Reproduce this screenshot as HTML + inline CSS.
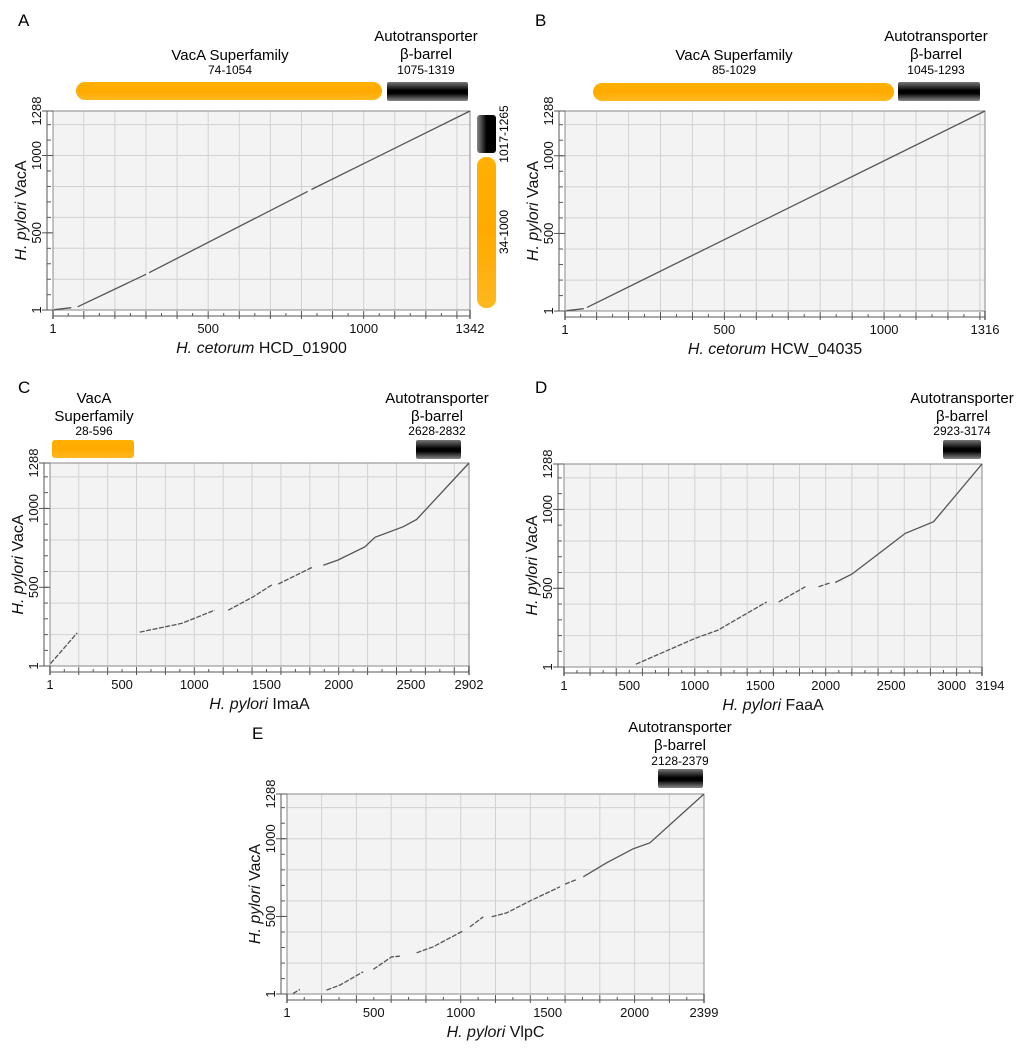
<!DOCTYPE html>
<html><head><meta charset="utf-8"><style>
html,body{margin:0;padding:0;background:#fff;}
svg{display:block;font-family:"Liberation Sans",Arial,sans-serif;}
</style></head><body>
<svg id="fig" width="1024" height="1049" viewBox="0 0 1024 1049">
<defs>
<linearGradient id="blk" x1="0" y1="0" x2="0" y2="1">
<stop offset="0" stop-color="#777"/><stop offset="0.45" stop-color="#000"/><stop offset="0.6" stop-color="#000"/><stop offset="1" stop-color="#888"/></linearGradient>
<linearGradient id="blkv" x1="0" y1="0" x2="1" y2="0">
<stop offset="0" stop-color="#888"/><stop offset="0.5" stop-color="#000"/><stop offset="1" stop-color="#000"/></linearGradient>
<linearGradient id="org" x1="0" y1="0" x2="0" y2="1">
<stop offset="0" stop-color="#ffb000"/><stop offset="0.5" stop-color="#ffaa00"/><stop offset="1" stop-color="#ffb820"/></linearGradient>
</defs>
<g>
<text x="18" y="26" font-size="17">A</text>
<text x="230" y="60" font-size="15" text-anchor="middle">VacA Superfamily</text>
<text x="230" y="74" font-size="12" text-anchor="middle">74-1054</text>
<text x="426" y="41" font-size="15" text-anchor="middle">Autotransporter</text>
<text x="426" y="59" font-size="15" text-anchor="middle">β-barrel</text>
<text x="426" y="74" font-size="12" text-anchor="middle">1075-1319</text>
<rect x="76" y="82" width="306" height="18" rx="9" fill="url(#org)"/>
<rect x="387" y="82" width="81" height="19" rx="2" fill="url(#blk)"/>
<rect x="477" y="115" width="19" height="38" rx="3" fill="url(#blkv)"/>
<rect x="477" y="157" width="19" height="151" rx="9" fill="url(#org)"/>
<text transform="translate(508,134) rotate(-90)" font-size="12" text-anchor="middle">1017-1265</text>
<text transform="translate(508,232) rotate(-90)" font-size="12" text-anchor="middle">34-1000</text>
</g>
<g>
<text x="535" y="26" font-size="17">B</text>
<text x="734" y="60" font-size="15" text-anchor="middle">VacA Superfamily</text>
<text x="734" y="74" font-size="12" text-anchor="middle">85-1029</text>
<text x="936" y="41" font-size="15" text-anchor="middle">Autotransporter</text>
<text x="936" y="59" font-size="15" text-anchor="middle">β-barrel</text>
<text x="936" y="74" font-size="12" text-anchor="middle">1045-1293</text>
<rect x="593" y="83" width="301" height="18" rx="9" fill="url(#org)"/>
<rect x="898" y="82" width="82" height="19" rx="2" fill="url(#blk)"/>
</g>
<g>
<text x="18" y="393" font-size="17">C</text>
<text x="94" y="403" font-size="15" text-anchor="middle">VacA</text>
<text x="94" y="421" font-size="15" text-anchor="middle">Superfamily</text>
<text x="94" y="435" font-size="12" text-anchor="middle">28-596</text>
<rect x="52" y="440" width="82" height="18" rx="3" fill="url(#org)"/>
<text x="437" y="403" font-size="15" text-anchor="middle">Autotransporter</text>
<text x="437" y="421" font-size="15" text-anchor="middle">β-barrel</text>
<text x="437" y="435" font-size="12" text-anchor="middle">2628-2832</text>
<rect x="416" y="440" width="45" height="19" rx="2" fill="url(#blk)"/>
</g>
<g>
<text x="535" y="393" font-size="17">D</text>
<text x="962" y="403" font-size="15" text-anchor="middle">Autotransporter</text>
<text x="962" y="421" font-size="15" text-anchor="middle">β-barrel</text>
<text x="962" y="435" font-size="12" text-anchor="middle">2923-3174</text>
<rect x="943" y="440" width="38" height="19" rx="2" fill="url(#blk)"/>
</g>
<g>
<text x="252" y="739" font-size="17">E</text>
<text x="680" y="732" font-size="15" text-anchor="middle">Autotransporter</text>
<text x="680" y="750" font-size="15" text-anchor="middle">β-barrel</text>
<text x="680" y="765" font-size="12" text-anchor="middle">2128-2379</text>
<rect x="658" y="769" width="45" height="19" rx="2" fill="url(#blk)"/>
</g>
</svg>
<script>
// ---- data ----
const panelIds = ['a','b','c','d','e'];
const xMaxA = 1342, xMaxB = 1316, xMaxC = 2902, xMaxD = 3194, xMaxE = 2399;
const yMax = 1288;
const xTicksA = [1,500,1000,1342];
const xTicksB = [1,500,1000,1316];
const xTicksC = [1,500,1000,1500,2000,2500,2902];
const xTicksD = [1,500,1000,1500,2000,2500,3000,3194];
const xTicksE = [1,500,1000,1500,2000,2399];
const yTicks = [1,500,1000,1288];
const xTitleA = ['H. cetorum',' HCD_01900'];
const xTitleB = ['H. cetorum',' HCW_04035'];
const xTitleC = ['H. pylori',' ImaA'];
const xTitleD = ['H. pylori',' FaaA'];
const xTitleE = ['H. pylori',' VlpC'];
// alignment fragments [x, y] in residue units
const segA = [[[5,3],[60,16]],[[80,22],[300,232]],[[310,242],[820,768]],[[832,780],[1342,1288]]];
const segB = [[[5,3],[60,16]],[[70,24],[1316,1288]]];
const segC = [[[5,17],[189,211]],[[623,216],[912,271],[1142,355]],[[1235,355],[1408,440],[1546,520]],[[1581,520],[1823,630]],[[1893,640],[1996,673],[2181,757],[2251,817],[2447,884],[2539,930],[2902,1288]]];
const segD = [[[550,19],[1000,182],[1178,235],[1549,414]],[[1641,414],[1845,510]],[[1946,510],[2029,533]],[[2073,537],[2200,590],[2607,848],[2824,922],[3194,1288]]];
const segE = [[[36,5],[75,30]],[[228,26],[305,58],[439,144]],[[497,159],[602,240],[650,244]],[[746,266],[842,305],[1015,408]],[[1053,433],[1130,498]],[[1178,498],[1264,523],[1408,605],[1571,691]],[[1600,708],[1667,738]],[[1705,755],[1839,845],[1993,936],[2088,974],[2399,1288]]];

const boxes = {
  a:{x0:53,x1:470,y0:111,y1:310,xmax:xMaxA,ticks:xTicksA,title:xTitleA,seg:segA,grid:100,solid:true},
  b:{x0:565,x1:985,y0:111,y1:311,xmax:xMaxB,ticks:xTicksB,title:xTitleB,seg:segB,grid:100,solid:true},
  c:{x0:50,x1:469,y0:463,y1:666,xmax:xMaxC,ticks:xTicksC,title:xTitleC,seg:segC,grid:200,solid:false},
  d:{x0:564,x1:982,y0:464,y1:667,xmax:xMaxD,ticks:xTicksD,title:xTitleD,seg:segD,grid:200,solid:false},
  e:{x0:287,x1:704,y0:794,y1:994,xmax:xMaxE,ticks:xTicksE,title:xTitleE,seg:segE,grid:200,solid:false}
};
const NS='http://www.w3.org/2000/svg';
const svg=document.getElementById('fig');
function mk(tag,attrs,parent){const e=document.createElementNS(NS,tag);for(const k in attrs)e.setAttribute(k,attrs[k]);(parent||svg).appendChild(e);return e;}

panelIds.forEach(id=>{
  const B=boxes[id];
  const sx=v=>B.x0+(v-1)/(B.xmax-1)*(B.x1-B.x0);
  const sy=v=>B.y1-(v-1)/(yMax-1)*(B.y1-B.y0);
  const g=mk('g',{});
  
  
  const bg=mk('rect',{x:B.x0,y:B.y0,width:B.x1-B.x0,height:B.y1-B.y0,fill:'#f3f3f3'},g);
  
  
  for(let v=B.grid;v<B.xmax;v+=B.grid){
    const l=mk('line',{x1:sx(v),x2:sx(v),y1:B.y0,y2:B.y1,stroke:'#d2d2d2','stroke-width':1},g);
    
    
  }
  for(let v=200;v<yMax;v+=200){
    const l=mk('line',{x1:B.x0,x2:B.x1,y1:sy(v),y2:sy(v),stroke:'#d2d2d2','stroke-width':1},g);
    
    
  }
  const fr=mk('rect',{x:B.x0,y:B.y0,width:B.x1-B.x0,height:B.y1-B.y0,fill:'none',stroke:'#8a8a8a','stroke-width':1},g);
  
  
  const ax=B.y1+6;
  const xl=mk('line',{x1:B.x0,x2:B.x1,y1:ax,y2:ax,stroke:'#555','stroke-width':1},g);
  
  
  for(let v=B.grid/2;v<B.xmax;v+=B.grid/2){
    const major=(v%B.grid===0);
    const t=mk('line',{x1:sx(v),x2:sx(v),y1:major?B.y1+1:ax-3,y2:major?ax+3:ax,stroke:'#555','stroke-width':1},g);
    
    
  }
  [1,B.xmax].forEach(v=>{const t=mk('line',{x1:sx(v),x2:sx(v),y1:B.y1,y2:ax+3,stroke:'#555','stroke-width':1.4},g);
    
    });
  const n=B.ticks.length;
  const crowded = sx(B.ticks[n-1])-sx(B.ticks[n-2]) < 38;
  B.ticks.forEach((v,i)=>{
    let px=sx(v);
    if(crowded && i===n-1) px+=8;
    if(crowded && i===n-2) px-=5;
    const t=mk('text',{x:px,y:B.y1+23,'font-size':13,'text-anchor':'middle',fill:'#111'},g);
    t.textContent=v;
    
    
  });
  const xt=mk('text',{x:(B.x0+B.x1)/2,y:B.y1+43,'font-size':16,'text-anchor':'middle',fill:'#111'},g);
  
  
  const ts1=mk('tspan',{'font-style':'italic'},xt);ts1.textContent=B.title[0];
  const ts2=mk('tspan',{},xt);ts2.textContent=B.title[1];
  const ayx=B.x0-6;
  const yl=mk('line',{x1:ayx,x2:ayx,y1:B.y0,y2:B.y1,stroke:'#555','stroke-width':1},g);
  
  
  for(let v=100;v<yMax;v+=100){
    const t=mk('line',{x1:ayx,x2:ayx+4,y1:sy(v),y2:sy(v),stroke:'#555','stroke-width':1},g);
    
    
  }
  yTicks.forEach(v=>{
    const t=mk('line',{x1:ayx-5,x2:B.x0,y1:sy(v),y2:sy(v),stroke:'#555','stroke-width':1},g);
    
    
    const lbl=mk('text',{transform:`translate(${B.x0-12},${sy(v)}) rotate(-90)`,'font-size':13,'text-anchor':'middle',fill:'#111'},g);
    lbl.textContent=v;
    
    
  });
  const yt=mk('text',{transform:`translate(${B.x0-27},${(B.y0+B.y1)/2}) rotate(-90)`,'font-size':16,'text-anchor':'middle',fill:'#111'},g);
  
  
  const y1s=mk('tspan',{'font-style':'italic'},yt);y1s.textContent='H. pylori';
  const y2s=mk('tspan',{},yt);y2s.textContent=' VacA';
  B.seg.forEach((s,i)=>{
    const pts=s.map(p=>sx(p[0]).toFixed(1)+','+sy(p[1]).toFixed(1)).join(' ');
    const attrs={points:pts,fill:'none',stroke:'#555','stroke-width':1.3};
    if(!B.solid && i<B.seg.length-1) attrs['stroke-dasharray']='5 1.5';
    const pl=mk('polyline',attrs,g);
    
    
  });
});
</script>
</body></html>
